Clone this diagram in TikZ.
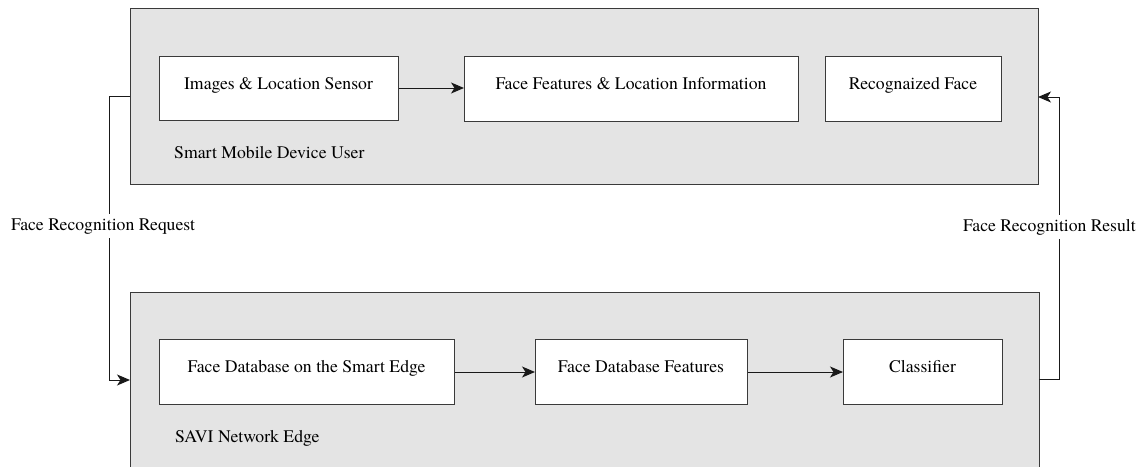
\documentclass[tikz,border=0pt]{standalone}
\usepackage{fontspec}
\setmainfont{TeX Gyre Termes}
\usetikzlibrary{arrows.meta}
\definecolor{panelgray}{HTML}{E4E4E4}
\definecolor{edgegray}{HTML}{3A3A3A}
\tikzset{
  stagebox/.style={draw=edgegray, fill=white, line width=1pt, inner sep=0pt, anchor=north west},
  panel/.style={stagebox, fill=panelgray},
  boxtext/.style={anchor=base, inner sep=0pt, font=\rmfamily\fontsize{17.7}{20}\selectfont},
  paneltext/.style={anchor=base west, inner sep=0pt, font=\rmfamily\fontsize{17.7}{20}\selectfont},
  linktext/.style={anchor=base, fill=white, inner xsep=1pt, inner ysep=4pt, font=\rmfamily\fontsize{17.7}{20}\selectfont},
  flow/.style={draw=black!90, line width=1pt, -{Stealth[length=13pt,width=11pt,inset=3.5pt]}},
}
\begin{document}
\begin{tikzpicture}[x=1pt,y=-1pt]
  \useasboundingbox (0,0) rectangle (1146,466);

  % device panel
  \node[panel, minimum width=908pt, minimum height=176pt] (device) at (130,8) {};
  \node[paneltext] (devicelbl) at (174,158) {Smart Mobile Device User};

  % edge panel, running off the lower border
  \fill[panelgray] (130,292) rectangle (1039,470);
  \draw[edgegray, line width=1pt] (130,470) -- (130,292) -- (1039,292) -- (1039,470);
  \coordinate (edgeL) at (130,380);
  \coordinate (edgeR) at (1039,379);
  \node[paneltext] (edgelbl) at (175,442) {SAVI Network Edge};

  % device stages
  \node[stagebox, minimum width=239pt, minimum height=64pt] (sensor) at (159,56) {};
  \node[boxtext] (sensorlbl) at (278.5,89) {Images \& Location Sensor};
  \node[stagebox, minimum width=334pt, minimum height=65pt] (features) at (464,56) {};
  \node[boxtext] (featureslbl) at (631,89) {Face Features \& Location Information};
  \node[stagebox, minimum width=176pt, minimum height=65pt] (recog) at (825,56) {};
  \node[boxtext] (recoglbl) at (913,89) {Recognaized Face};

  % edge stages
  \node[stagebox, minimum width=295pt, minimum height=65pt] (db) at (159,339) {};
  \node[boxtext] (dblbl) at (306.5,372) {Face Database on the Smart Edge};
  \node[stagebox, minimum width=212pt, minimum height=65pt] (dbfeat) at (535,339) {};
  \node[boxtext] (dbfeatlbl) at (641,372) {Face Database Features};
  \node[stagebox, minimum width=159pt, minimum height=65pt] (classifier) at (843,339) {};
  \node[boxtext] (classifierlbl) at (922.5,372) {Classifier};

  % stage flow
  \draw[flow] (sensor.east |- 0,88) -- (features.west |- 0,88);
  \draw[flow] (db.east |- 0,372) -- (dbfeat.west |- 0,372);
  \draw[flow] (dbfeat.east |- 0,372) -- (classifier.west |- 0,372);

  % request and result loops
  \coordinate (devL) at (130,96);
  \coordinate (devR) at (1038,97);
  \draw[flow] (devL) -- (109,96) -- (109,380) -- (edgeL);
  \draw[flow] (edgeR) -- (1059,379) -- (1059,97) -- (devR);
  \node[linktext] (reqlbl) at (103,230) {Face Recognition Request};
  \node[linktext] (reslbl) at (1049.5,231) {Face Recognition Result};
\end{tikzpicture}
\end{document}
